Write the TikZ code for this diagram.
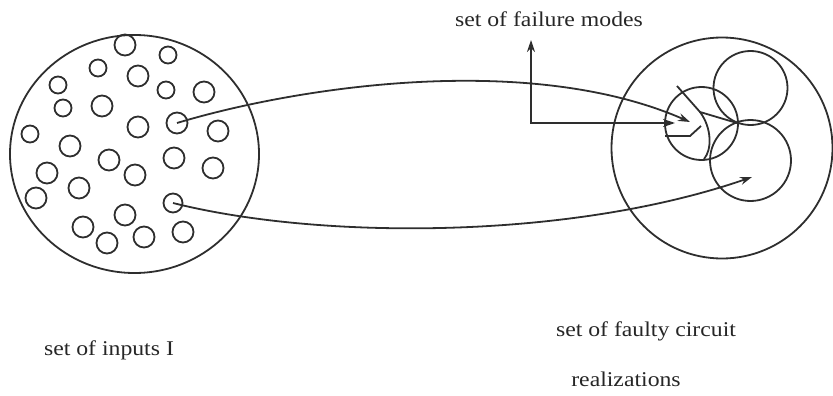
\documentclass[tikz,border=0pt]{standalone}
\usepackage{fontspec}
\setmainfont{Liberation Serif}[FakeStretch=1.13]
\usetikzlibrary{arrows.meta,shapes.geometric}
\begin{document}
\begin{tikzpicture}[x=1pt,y=-1pt,
  ink/.style={draw=black!82, line width=1.8pt},
  dot/.style={circle, ink, inner sep=0pt, outer sep=0pt, minimum size=#1},
  dot/.default=21,
  tip/.tip={Stealth[length=12pt,width=8pt,inset=4pt]},
  arr/.style={ink, -tip},
  dblarr/.style={ink, tip-tip},
  lbl/.style={font=\fontsize{21}{25}\selectfont, inner sep=0pt, text=black!85, anchor=base}]
\useasboundingbox (0,0) rectangle (833,396);
% set of inputs
\node[ellipse, ink, inner sep=0pt, minimum width=249, minimum height=238] (inputs) at (134.5,154) {};
\node[dot] (c1) at (125,45) {};
\node[dot=17] (c2) at (168,55) {};
\node[dot=17] (c3) at (98,68) {};
\node[dot] (c4) at (138,76) {};
\node[dot=17] (c5) at (58,85) {};
\node[dot=17] (c6) at (166,90) {};
\node[dot] (c7) at (204,92) {};
\node[dot=17] (c8) at (63,108) {};
\node[dot] (c9) at (102,106) {};
\node[dot] (c10) at (138,127) {};
\node[dot] (c11) at (177,123) {};
\node[dot] (c12) at (218,131) {};
\node[dot=17] (c13) at (30,134) {};
\node[dot] (c14) at (70,146) {};
\node[dot] (c15) at (109,160) {};
\node[dot] (c16) at (174,158) {};
\node[dot] (c17) at (47,173) {};
\node[dot] (c18) at (135,175) {};
\node[dot] (c19) at (213,168) {};
\node[dot] (c20) at (79,188) {};
\node[dot] (c21) at (36,198) {};
\node[dot=19] (c22) at (173,203) {};
\node[dot] (c23) at (125,215) {};
\node[dot] (c24) at (83,227) {};
\node[dot] (c25) at (144,237) {};
\node[dot] (c26) at (183,232) {};
\node[dot] (c27) at (107,243) {};
% set of faulty circuits
\node[dot=221] (faulty) at (722,148) {};
\node[dot=73] (modeA) at (701.5,123.5) {};
\node[dot=74] (modeB) at (750.5,88) {};
\node[dot=81] (modeC) at (750.5,160.5) {};
\coordinate (J) at (737,123);
\coordinate (Y) at (700,112);
\coordinate (Ytop) at (677,86);
\coordinate (tipTop) at (690,122);
\coordinate (tipMode) at (675,123);
\coordinate (tipLow) at (752,177);
\coordinate (corner) at (531,123);
\coordinate (tipUp) at (531,40);
\draw[ink] (Ytop) -- (Y) -- (J);
\draw[ink] (Y) .. controls (712,128) and (712,150) .. (704,159);
\draw[ink] (665,136) -- (690,136) -- (701,126);
% mappings
\draw[arr] (c11.center) .. controls (300,86) and (530,52) .. (tipTop);
\draw[arr] (c22.center) .. controls (320,240) and (570,240) .. (tipLow);
\draw[dblarr] (tipMode) -- (corner) -- (tipUp);
% labels
\node[lbl] (lblModes) at (549,27) {set of failure modes};
\node[lbl] (lblInputs) at (109,355) {set of inputs I};
\node[lbl] (lblFaulty) at (646,336) {set of faulty circuit};
\node[lbl] (lblReal) at (626,386) {realizations};
\end{tikzpicture}
\end{document}
